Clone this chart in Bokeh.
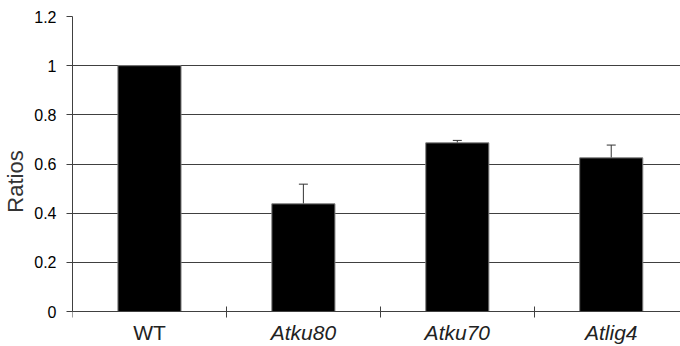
from bokeh.plotting import figure
from bokeh.models import Range1d, FixedTicker, ColumnDataSource, Whisker, LinearAxis
from bokeh.core.properties import value
from bokeh.embed import file_html
from bokeh.resources import INLINE

categories = ["WT", "Atku80", "Atku70", "Atlig4"]
label_styles = ["normal", "italic", "italic", "italic"]
ratios = [1.0, 0.438, 0.686, 0.625]
errors = [0.0, 0.08, 0.01, 0.052]
y_ticks = [0, 0.2, 0.4, 0.6, 0.8, 1.0, 1.2]
y_tick_labels = ["0", "0.2", "0.4", "0.6", "0.8", "1", "1.2"]

xs = [i + 0.5 for i in range(len(categories))]
bounds = [float(i) for i in range(len(categories))]
upper = [r + e for r, e in zip(ratios, errors)]

# pixel layout of the plotting area
TOP, ZERO, H = 16, 311, 346
px_per_unit = (ZERO - TOP) / max(y_ticks)
y_bottom = -(H - ZERO) / px_per_unit
label_y = -(332 - ZERO) / px_per_unit

src = ColumnDataSource(dict(x=xs, top=ratios))
err_src = ColumnDataSource(dict(x=xs[1:], upper=upper[1:], base=ratios[1:]))
lab_src = ColumnDataSource(dict(x=xs, y=[label_y] * len(xs), name=categories,
                                style=label_styles))

p = figure(width=680, height=H, output_backend="svg", toolbar_location=None,
           x_range=Range1d(0, 3.95), y_range=Range1d(y_bottom, max(y_ticks)),
           min_border_left=71, min_border_right=0, min_border_top=TOP,
           min_border_bottom=0, background_fill_color="white",
           border_fill_color="white", x_axis_type=None)
p.outline_line_color = None

p.vbar(x="x", top="top", bottom=0, width=0.41, source=src,
       fill_color="black", line_color="#7f7f7f", line_width=1)

wh = Whisker(base="x", upper="upper", lower="base", source=err_src,
             dimension="height", line_color="#333333", line_width=1,
             lower_head=None)
wh.upper_head.size = 9
wh.upper_head.line_color = "#333333"
p.add_layout(wh)

# y axis
yax = p.yaxis[0]
yax.ticker = FixedTicker(ticks=y_ticks)
yax.bounds = (0, max(y_ticks))
yax.major_label_overrides = dict(zip(y_ticks, y_tick_labels))
yax.major_label_text_font = "Liberation Sans"
yax.major_label_text_font_size = "16px"
yax.major_label_text_color = "black"
yax.major_tick_in = 0
yax.major_tick_out = 6
yax.minor_tick_line_color = None
yax.axis_line_color = "#404040"
yax.major_tick_line_color = "#404040"
yax.major_label_standoff = 10
yax.axis_label = "Ratios"
yax.axis_label_text_font = "Liberation Sans"
yax.axis_label_text_font_size = "22px"
yax.axis_label_text_font_style = "normal"
yax.axis_label_text_color = "#333333"
yax.axis_label_standoff = 3

# x axis at y=0 with category boundary ticks
xax = LinearAxis(ticker=FixedTicker(ticks=[], minor_ticks=bounds),
                 fixed_location=0)
xax.major_tick_line_color = None
xax.minor_tick_in = 5
xax.minor_tick_out = 6
xax.minor_tick_line_color = "#404040"
xax.axis_line_color = "#404040"
p.add_layout(xax, "below")

p.ygrid.ticker = FixedTicker(ticks=y_ticks)
p.ygrid.grid_line_color = "#404040"
p.ygrid.grid_line_width = 1

p.text(x="x", y="y", text="name", source=lab_src,
       text_font=value("Liberation Sans"), text_font_size="21px",
       text_font_style="style", text_align="center",
       text_baseline="alphabetic", text_color="#222222")

open("out.html", "w").write(file_html(p, INLINE))
